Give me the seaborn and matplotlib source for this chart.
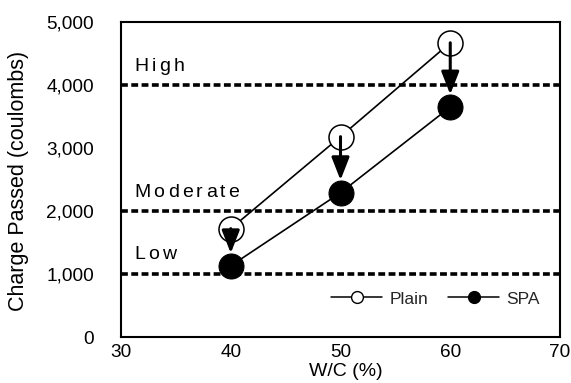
import matplotlib
matplotlib.use("Agg")
import matplotlib.pyplot as plt
from matplotlib.lines import Line2D
from matplotlib.font_manager import FontProperties
import seaborn as sns
import pandas as pd

wc = [40, 50, 60]
plain = [1720, 3180, 4670]
spa = [1130, 2290, 3650]
levels = [1000, 2000, 4000]
level_labels = ["Low", "Moderate", "High"]
level_label_y = [1310, 2300, 4300]
x_ticks = [30, 40, 50, 60, 70]
y_ticks = [0, 1000, 2000, 3000, 4000, 5000]

sns.set_theme(style="white")
plt.rcParams['font.family'] = ['Liberation Sans', 'DejaVu Sans']

W, H = 571, 383
fig = plt.figure(figsize=(W / 100, H / 100), dpi=100)
L, R, T, B = 121, 560, 22, 337
ax = fig.add_axes([L / W, 1 - B / H, (R - L) / W, (B - T) / H])

for y in levels:
    ax.axhline(y, color="black", lw=2.6, ls=(0, (1.9, 0.95)), zorder=1)

df = pd.DataFrame({"wc": wc * 2, "val": plain + spa,
                   "series": ["Plain"] * 3 + ["SPA"] * 3})

sns.lineplot(data=df[df.series == "Plain"], x="wc", y="val", ax=ax, color="black",
             lw=1.2, marker="o", markersize=18, markerfacecolor="white",
             markeredgecolor="black", markeredgewidth=1.1, zorder=3, legend=False)
sns.lineplot(data=df[df.series == "SPA"], x="wc", y="val", ax=ax, color="black",
             lw=1.2, marker="o", markersize=18, markerfacecolor="black",
             markeredgecolor="black", zorder=3, legend=False)

for x, p, s in zip(wc, plain, spa):
    ax.annotate("", xy=(x, s + 200), xytext=(x, p),
                arrowprops=dict(arrowstyle="-|>,head_length=1.15,head_width=0.45",
                                color="black", lw=2.2, shrinkA=0, shrinkB=0),
                zorder=4)

# letter-spaced level labels
fig.canvas.draw()
renderer = fig.canvas.get_renderer()
lab_fs = 14
prop = FontProperties(family=['Liberation Sans', 'DejaVu Sans'], size=lab_fs)
spacing_px = 3.2
for lab, ly in zip(level_labels, level_label_y):
    for i, ch in enumerate(lab):
        if i == 0:
            w = 0
        else:
            w, _, _ = renderer.get_text_width_height_descent(lab[:i], prop, ismath=False)
        off_pt = (w + i * spacing_px) * 72 / fig.dpi
        ax.annotate(ch, xy=(31.2, ly), xycoords="data", xytext=(off_pt, 0),
                    textcoords="offset points", color="black",
                    va="center", ha="left", fontproperties=prop)

ax.set_xlim(30, 70)
ax.set_ylim(0, 5000)
ax.set_xticks(x_ticks)
ax.set_yticks(y_ticks)
ax.set_yticklabels([f"{v:,}" for v in y_ticks])
ax.tick_params(axis="both", direction="in", length=4, width=1.2, colors="black",
               labelsize=13.7)
ax.tick_params(axis="y", pad=19.5)
ax.tick_params(axis="x", pad=5)
ax.set_xlabel("W/C (%)", fontsize=14, color="black")
ax.xaxis.set_label_coords((346 - L) / (R - L), -(371 - B) / (B - T))
ax.xaxis.label.set_va("center")
ax.set_ylabel("Charge Passed (coulombs)", fontsize=15.5, color="black")
ax.yaxis.set_label_coords(-(L - 19) / (R - L), (B - 181) / (B - T))
ax.yaxis.label.set_va("center")
for sp in ax.spines.values():
    sp.set_color("black")
    sp.set_linewidth(1.5)

handles = [Line2D([], [], color="black", lw=1.1, marker="o", markersize=8.5,
                  markerfacecolor="white", markeredgecolor="black"),
           Line2D([], [], color="black", lw=1.1, marker="o", markersize=8.5,
                  markerfacecolor="black", markeredgecolor="black")]
ax.legend(handles, ["Plain", "SPA"], ncol=2, frameon=False, loc="center right",
          bbox_to_anchor=((540 - L) / (R - L), (B - 299) / (B - T)), fontsize=12.5,
          handlelength=2.9, columnspacing=1.15, handletextpad=0.45,
          borderpad=0, borderaxespad=0)

fig.savefig("out.png", dpi=100)
